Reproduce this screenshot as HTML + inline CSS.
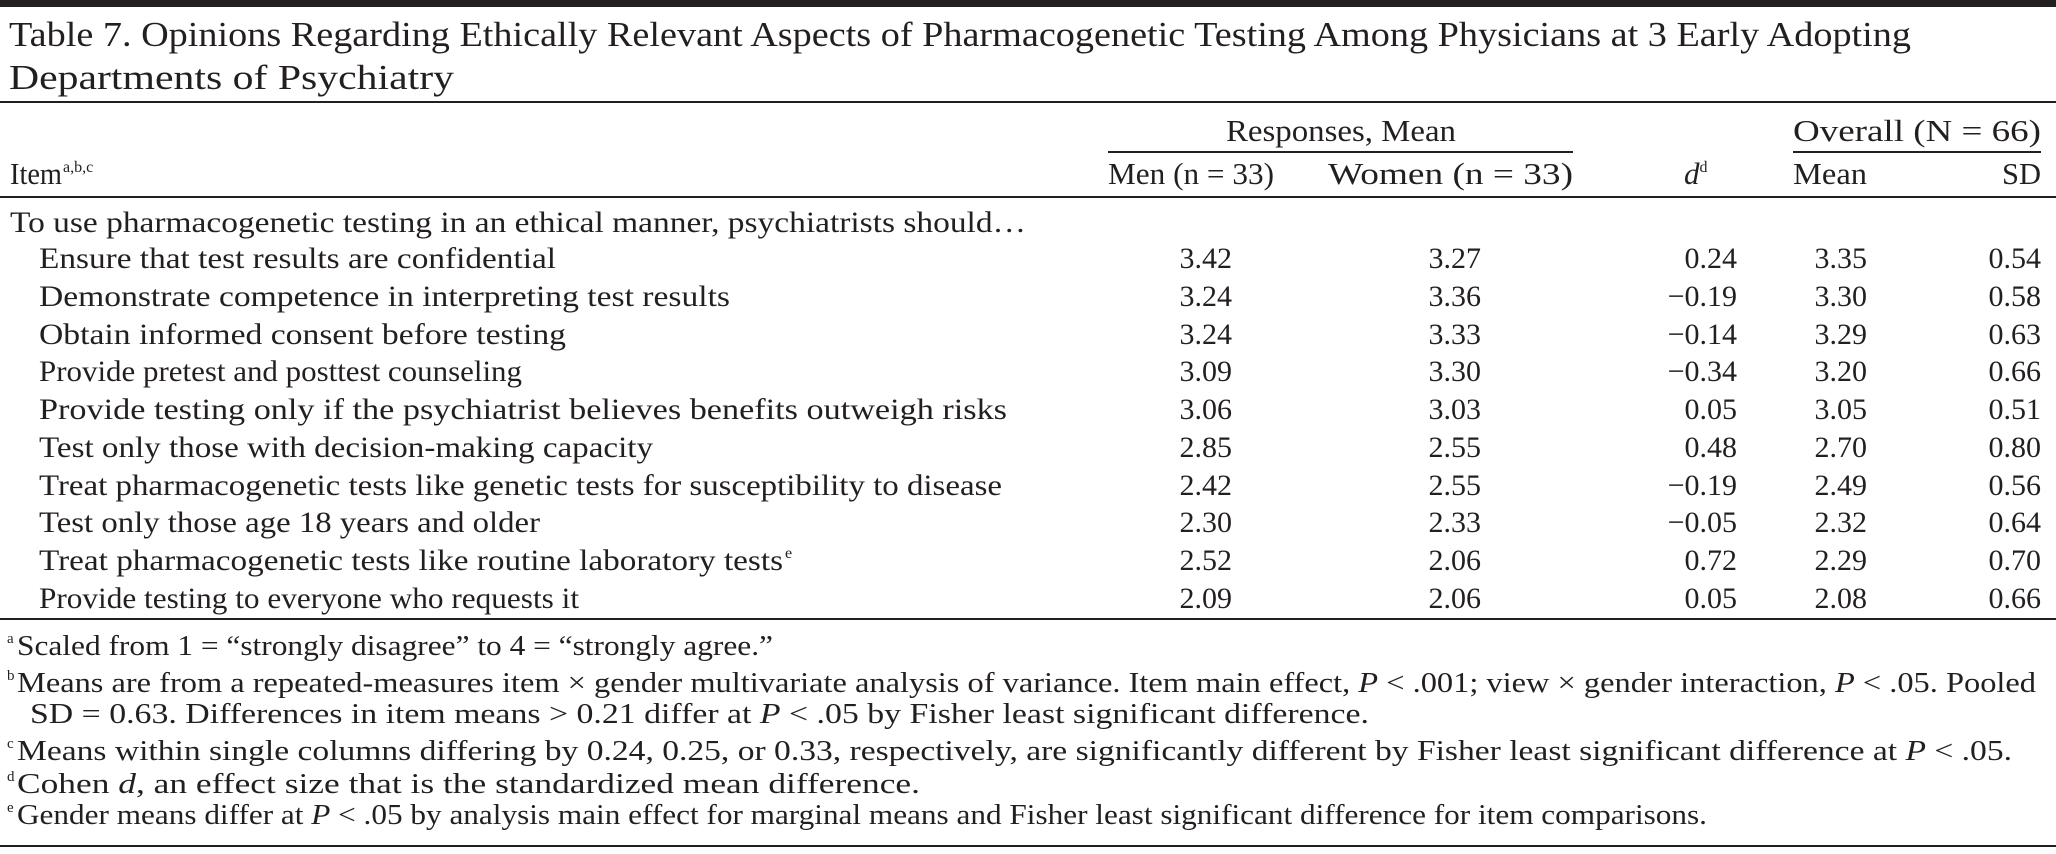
<!DOCTYPE html>
<html><head><meta charset="utf-8"><style>
html,body{margin:0;padding:0;background:#fff;}
svg{display:block;}
text{font-family:"Liberation Serif",serif;fill:#231f20;}
</style></head><body>
<svg width="2056" height="854" viewBox="0 0 2056 854" xmlns="http://www.w3.org/2000/svg">
<rect x="0" y="0" width="2056" height="7" fill="#231f20"/>
<g font-size="35">
<text x="9" y="46" textLength="1902" lengthAdjust="spacingAndGlyphs">Table 7. Opinions Regarding Ethically Relevant Aspects of Pharmacogenetic Testing Among Physicians at 3 Early Adopting</text>
<text x="9" y="89" textLength="445" lengthAdjust="spacingAndGlyphs">Departments of Psychiatry</text>
</g>
<rect x="0" y="101" width="2056" height="2" fill="#231f20"/>
<g font-size="31">
<text x="1341" y="141" text-anchor="middle" textLength="230" lengthAdjust="spacingAndGlyphs">Responses, Mean</text>
<text x="1793" y="141" textLength="248" lengthAdjust="spacingAndGlyphs">Overall (N = 66)</text>
<text x="10" y="184" textLength="52" lengthAdjust="spacingAndGlyphs">Item</text>
<text x="63" y="172" font-size="16">a,b,c</text>
<text x="1108" y="184" textLength="166" lengthAdjust="spacingAndGlyphs">Men (n = 33)</text>
<text x="1328" y="184" textLength="245" lengthAdjust="spacingAndGlyphs">Women (n = 33)</text>
<text x="1684" y="184"><tspan font-style="italic">d</tspan><tspan font-size="16" dy="-12">d</tspan></text>
<text x="1793" y="184" textLength="74" lengthAdjust="spacingAndGlyphs">Mean</text>
<text x="2002" y="184" textLength="39" lengthAdjust="spacingAndGlyphs">SD</text>
</g>
<rect x="1108" y="151" width="465" height="2" fill="#231f20"/>
<rect x="1793" y="151" width="248" height="2" fill="#231f20"/>
<rect x="0" y="196" width="2056" height="2" fill="#231f20"/>
<g font-size="30">
<text x="10" y="232" textLength="1016" lengthAdjust="spacingAndGlyphs">To use pharmacogenetic testing in an ethical manner, psychiatrists should…</text>
<text x="39" y="268" textLength="517" lengthAdjust="spacingAndGlyphs">Ensure that test results are confidential</text>
<text x="39" y="306" textLength="691" lengthAdjust="spacingAndGlyphs">Demonstrate competence in interpreting test results</text>
<text x="39" y="344" textLength="527" lengthAdjust="spacingAndGlyphs">Obtain informed consent before testing</text>
<text x="39" y="381" textLength="483" lengthAdjust="spacingAndGlyphs">Provide pretest and posttest counseling</text>
<text x="39" y="419" textLength="968" lengthAdjust="spacingAndGlyphs">Provide testing only if the psychiatrist believes benefits outweigh risks</text>
<text x="39" y="457" textLength="614" lengthAdjust="spacingAndGlyphs">Test only those with decision-making capacity</text>
<text x="39" y="495" textLength="963" lengthAdjust="spacingAndGlyphs">Treat pharmacogenetic tests like genetic tests for susceptibility to disease</text>
<text x="39" y="532" textLength="501" lengthAdjust="spacingAndGlyphs">Test only those age 18 years and older</text>
<text x="39" y="570" textLength="744" lengthAdjust="spacingAndGlyphs">Treat pharmacogenetic tests like routine laboratory tests</text>
<text x="785" y="558" font-size="16">e</text>
<text x="39" y="608" textLength="540" lengthAdjust="spacingAndGlyphs">Provide testing to everyone who requests it</text>
</g>
<g font-size="30" text-anchor="end">
<text x="1232" y="268">3.42</text><text x="1481" y="268">3.27</text><text x="1737" y="268">0.24</text><text x="1867" y="268">3.35</text><text x="2041" y="268">0.54</text>
<text x="1232" y="306">3.24</text><text x="1481" y="306">3.36</text><text x="1737" y="306">−0.19</text><text x="1867" y="306">3.30</text><text x="2041" y="306">0.58</text>
<text x="1232" y="344">3.24</text><text x="1481" y="344">3.33</text><text x="1737" y="344">−0.14</text><text x="1867" y="344">3.29</text><text x="2041" y="344">0.63</text>
<text x="1232" y="381">3.09</text><text x="1481" y="381">3.30</text><text x="1737" y="381">−0.34</text><text x="1867" y="381">3.20</text><text x="2041" y="381">0.66</text>
<text x="1232" y="419">3.06</text><text x="1481" y="419">3.03</text><text x="1737" y="419">0.05</text><text x="1867" y="419">3.05</text><text x="2041" y="419">0.51</text>
<text x="1232" y="457">2.85</text><text x="1481" y="457">2.55</text><text x="1737" y="457">0.48</text><text x="1867" y="457">2.70</text><text x="2041" y="457">0.80</text>
<text x="1232" y="495">2.42</text><text x="1481" y="495">2.55</text><text x="1737" y="495">−0.19</text><text x="1867" y="495">2.49</text><text x="2041" y="495">0.56</text>
<text x="1232" y="532">2.30</text><text x="1481" y="532">2.33</text><text x="1737" y="532">−0.05</text><text x="1867" y="532">2.32</text><text x="2041" y="532">0.64</text>
<text x="1232" y="570">2.52</text><text x="1481" y="570">2.06</text><text x="1737" y="570">0.72</text><text x="1867" y="570">2.29</text><text x="2041" y="570">0.70</text>
<text x="1232" y="608">2.09</text><text x="1481" y="608">2.06</text><text x="1737" y="608">0.05</text><text x="1867" y="608">2.08</text><text x="2041" y="608">0.66</text>
</g>
<rect x="0" y="618" width="2056" height="2" fill="#231f20"/>
<g font-size="29">
<text x="7" y="643" font-size="15">a</text>
<text x="17" y="655" textLength="756" lengthAdjust="spacingAndGlyphs">Scaled from 1 = “strongly disagree” to 4 = “strongly agree.”</text>
<text x="7" y="680" font-size="15">b</text>
<text x="17" y="692" textLength="2019" lengthAdjust="spacingAndGlyphs">Means are from a repeated-measures item × gender multivariate analysis of variance. Item main effect, <tspan font-style="italic">P</tspan> &lt; .001; view × gender interaction, <tspan font-style="italic">P</tspan> &lt; .05. Pooled</text>
<text x="30" y="723" textLength="1339" lengthAdjust="spacingAndGlyphs">SD = 0.63. Differences in item means &gt; 0.21 differ at <tspan font-style="italic">P</tspan> &lt; .05 by Fisher least significant difference.</text>
<text x="7" y="748" font-size="15">c</text>
<text x="17" y="760" textLength="1995" lengthAdjust="spacingAndGlyphs">Means within single columns differing by 0.24, 0.25, or 0.33, respectively, are significantly different by Fisher least significant difference at <tspan font-style="italic">P</tspan> &lt; .05.</text>
<text x="7" y="781" font-size="15">d</text>
<text x="17" y="793" textLength="903" lengthAdjust="spacingAndGlyphs">Cohen <tspan font-style="italic">d</tspan>, an effect size that is the standardized mean difference.</text>
<text x="7" y="812" font-size="15">e</text>
<text x="17" y="824" textLength="1690" lengthAdjust="spacingAndGlyphs">Gender means differ at <tspan font-style="italic">P</tspan> &lt; .05 by analysis main effect for marginal means and Fisher least significant difference for item comparisons.</text>
</g>
<rect x="0" y="845" width="2056" height="2" fill="#231f20"/>
</svg>
</body></html>
